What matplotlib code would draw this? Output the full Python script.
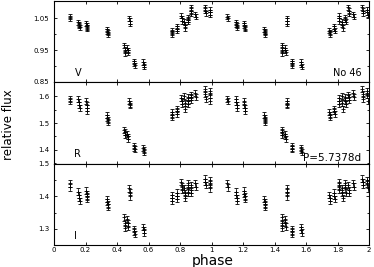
import numpy as np
import matplotlib
matplotlib.use("Agg")
from matplotlib import pyplot as plt
from matplotlib.ticker import FixedLocator

# phases of the observations (plotted twice: phase and phase+1)
phase = [0.100, 0.102,
         0.155, 0.158, 0.160, 0.162,
         0.205, 0.208, 0.210, 0.212,
         0.335, 0.338, 0.340, 0.342,
         0.445, 0.448, 0.450,
         0.465, 0.468, 0.470,
         0.478, 0.480, 0.482,
         0.508, 0.510, 0.512,
         0.568, 0.570, 0.572,
         0.748, 0.750, 0.752,
         0.778, 0.780, 0.782,
         0.808, 0.810, 0.812,
         0.828, 0.830, 0.832,
         0.848, 0.850, 0.852,
         0.868, 0.870, 0.872,
         0.898, 0.902,
         0.958, 0.960, 0.962,
         0.988, 0.990, 0.992]

flux_v = [1.055, 1.050,
          1.038, 1.032, 1.027, 1.022,
          1.035, 1.028, 1.022, 1.017,
          1.016, 1.010, 1.005, 1.000,
          0.965, 0.952, 0.940,
          0.958, 0.950, 0.943,
          1.050, 1.042, 1.034,
          0.915, 0.909, 0.903,
          0.913, 0.905, 0.898,
          1.012, 1.006, 1.001,
          1.025, 1.018, 1.012,
          1.058, 1.050, 1.042,
          1.040, 1.030, 1.020,
          1.052, 1.046, 1.040,
          1.085, 1.075, 1.065,
          1.063, 1.056,
          1.085, 1.075, 1.066,
          1.078, 1.070, 1.062]

flux_r = [1.588, 1.580,
          1.590, 1.578, 1.566, 1.555,
          1.580, 1.568, 1.556, 1.545,
          1.530, 1.520, 1.512, 1.503,
          1.475, 1.465, 1.455,
          1.460, 1.450, 1.440,
          1.580, 1.572, 1.565,
          1.415, 1.408, 1.402,
          1.408, 1.400, 1.393,
          1.540, 1.530, 1.522,
          1.552, 1.543, 1.535,
          1.592, 1.582, 1.572,
          1.600, 1.575, 1.552,
          1.595, 1.582, 1.570,
          1.605, 1.595, 1.585,
          1.610, 1.598,
          1.625, 1.608, 1.590,
          1.620, 1.602, 1.582]

flux_i = [1.440, 1.428,
          1.415, 1.405, 1.395, 1.385,
          1.418, 1.408, 1.400, 1.392,
          1.392, 1.383, 1.375, 1.368,
          1.335, 1.318, 1.302,
          1.330, 1.318, 1.307,
          1.425, 1.413, 1.400,
          1.300, 1.292, 1.284,
          1.305, 1.296, 1.288,
          1.405, 1.395, 1.385,
          1.412, 1.402, 1.392,
          1.445, 1.432, 1.420,
          1.425, 1.410, 1.395,
          1.440, 1.425, 1.412,
          1.435, 1.420, 1.410,
          1.440, 1.430,
          1.455, 1.445, 1.435,
          1.450, 1.438, 1.425]

err_v, err_r, err_i = 0.008, 0.011, 0.010

bands = ["V", "R", "I"]
ylims = [(0.85, 1.105), (1.348, 1.652), (1.25, 1.5)]
ymajor = [[1.05, 0.95, 0.85], [1.6, 1.5, 1.4], [1.5, 1.4, 1.3]]
yminor = [[1.0, 0.9], [1.55, 1.45, 1.35], [1.45, 1.35, 1.25]]
xticks = [0, 0.2, 0.4, 0.6, 0.8, 1, 1.2, 1.4, 1.6, 1.8, 2]
xticklabels = ["0", "0.2", "0.4", "0.6", "0.8", "1", "1.2", "1.4", "1.6", "1.8", "2"]

fig = plt.figure(figsize=(3.74, 2.67), dpi=100)
left, width = 54 / 374, 315 / 374
tops = [1 / 267, 82 / 267, 164 / 267]
bots = [82 / 267, 164 / 267, 245 / 267]

ph = np.concatenate([phase, np.array(phase) + 1])
for k, (flux, err) in enumerate([(flux_v, err_v), (flux_r, err_r), (flux_i, err_i)]):
    ax = fig.add_axes([left, 1 - bots[k], width, bots[k] - tops[k]])
    fl = np.concatenate([flux, flux])
    ax.errorbar(ph, fl, yerr=err, fmt="+", color="black", ms=3, mew=0.6,
                elinewidth=0.5, capsize=1.5, capthick=0.5)
    ax.set_xlim(0, 2)
    ax.set_ylim(*ylims[k])
    ax.set_xticks(xticks)
    ax.yaxis.set_major_locator(FixedLocator(ymajor[k]))
    ax.yaxis.set_minor_locator(FixedLocator(yminor[k]))
    ax.tick_params(direction="in", top=True, right=True, which="both",
                   labelsize=5, length=2.5, width=0.6)
    ax.tick_params(which="minor", length=1.5)
    ax.tick_params(axis="x", pad=1.5)
    if k == 2:
        ax.set_xticklabels(xticklabels)
    else:
        ax.set_xticklabels([])
    for s in ax.spines.values():
        s.set_linewidth(0.8)
    ax.text(0.065, 0.08, bands[k], transform=ax.transAxes, fontsize=7)
    if k == 0:
        ax.text(0.885, 0.08, "No 46", transform=ax.transAxes, fontsize=7)
    if k == 1:
        ax.text(0.79, 0.04, "P=5.7378d", transform=ax.transAxes, fontsize=7.5)

fig.text(0.57, 1 - 261 / 267, "phase", fontsize=10, va="center", ha="center")
fig.text(0.022, 0.532, "relative flux", rotation=90, fontsize=8.5, va="center", ha="center")
fig.savefig("out.png", dpi=100)
